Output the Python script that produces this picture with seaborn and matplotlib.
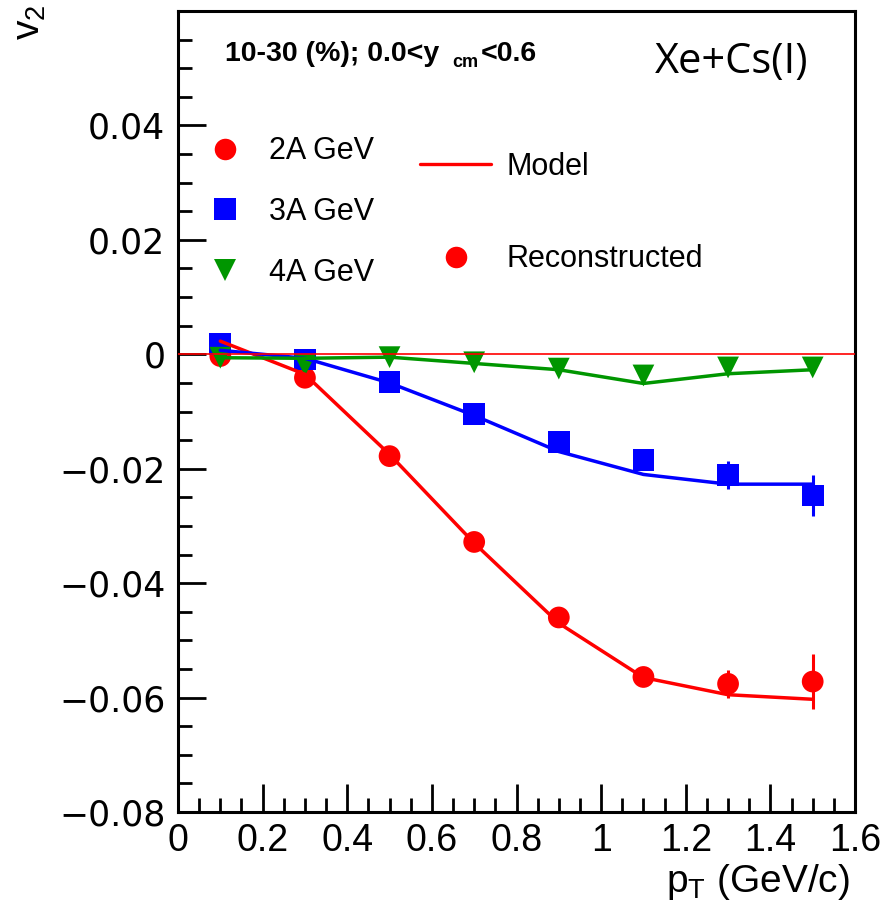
import numpy as np
import pandas as pd
import matplotlib
matplotlib.use("Agg")
import matplotlib.pyplot as plt
import seaborn as sns
from matplotlib.lines import Line2D
from matplotlib.ticker import MultipleLocator, FuncFormatter

# ---------------- data ----------------
pt = [0.1, 0.3, 0.5, 0.7, 0.9, 1.1, 1.3, 1.5]

v2_2A = [-0.0003, -0.0041, -0.0178, -0.0328, -0.0460, -0.0564, -0.0576, -0.0572]
err_2A = [0.0008, 0.0008, 0.0008, 0.0009, 0.0010, 0.0012, 0.0025, 0.0048]
model_2A = [0.0023, -0.0035, -0.0175, -0.0330, -0.0470, -0.0565, -0.0595, -0.0603]

v2_3A = [0.0018, -0.0009, -0.0048, -0.0104, -0.0153, -0.0185, -0.0211, -0.0247]
err_3A = [0.0006, 0.0006, 0.0006, 0.0007, 0.0008, 0.0010, 0.0024, 0.0036]
model_3A = [0.0007, -0.0007, -0.0050, -0.0107, -0.0170, -0.0210, -0.0227, -0.0227]

v2_4A = [-0.0006, -0.0019, -0.0005, -0.0014, -0.0025, -0.0037, -0.0023, -0.0023]
err_4A = [0.0004, 0.0004, 0.0004, 0.0005, 0.0005, 0.0006, 0.0008, 0.0010]
model_4A = [-0.0006, -0.0007, -0.0005, -0.0016, -0.0027, -0.0051, -0.0034, -0.0027]

energies = ["2A GeV", "3A GeV", "4A GeV"]
colors = {"2A GeV": "#ff0000", "3A GeV": "#0000ff", "4A GeV": "#009600"}
markers = {"2A GeV": "o", "3A GeV": "s", "4A GeV": "v"}

pts = pd.DataFrame({
    "pt": pt * 3,
    "v2": v2_2A + v2_3A + v2_4A,
    "err": err_2A + err_3A + err_4A,
    "energy": [e for e in energies for _ in pt],
})
model = pd.DataFrame({
    "pt": pt * 3,
    "v2": model_2A + model_3A + model_4A,
    "energy": [e for e in energies for _ in pt],
})

# ---------------- style ----------------
sns.set_style("ticks")
plt.rcParams["font.family"] = ["Liberation Sans", "DejaVu Sans"]
plt.rcParams["text.color"] = "black"
plt.rcParams["axes.labelcolor"] = "black"
plt.rcParams["xtick.color"] = "black"
plt.rcParams["ytick.color"] = "black"
plt.rcParams["mathtext.fontset"] = "custom"
plt.rcParams["mathtext.rm"] = "Liberation Sans"
plt.rcParams["mathtext.it"] = "Liberation Sans:italic"
plt.rcParams["mathtext.bf"] = "Liberation Sans:bold"

W, H = 884, 916
fig = plt.figure(figsize=(W / 100, H / 100), dpi=100)
L, R, T, B = 178, 855, 11, 812
ax = fig.add_axes([L / W, 1 - B / H, (R - L) / W, (B - T) / H])

def fx(x):
    return x / W

def fy(y):
    return 1 - y / H

# error bars
for e in energies:
    d = pts[pts.energy == e]
    ax.errorbar(d.pt, d.v2, yerr=d.err, fmt="none", ecolor=colors[e],
                elinewidth=2.2, capsize=0, zorder=2)

# points
sns.scatterplot(data=pts, x="pt", y="v2", hue="energy", style="energy",
                palette=colors, markers=markers, s=245, linewidth=0,
                legend=False, ax=ax, zorder=3)

# model lines
sns.lineplot(data=model, x="pt", y="v2", hue="energy", palette=colors,
             linewidth=2.5, legend=False, ax=ax, sort=False, estimator=None,
             zorder=4)

ax.axhline(0, color="#ff0000", lw=1.2, zorder=5)

ax.set_xlim(0, 1.6)
ax.set_ylim(-0.08, 0.06)
ax.set_xlabel("")
ax.set_ylabel("")

ax.xaxis.set_major_locator(MultipleLocator(0.2))
ax.xaxis.set_minor_locator(MultipleLocator(0.05))
ax.set_yticks([-0.08, -0.06, -0.04, -0.02, 0.0, 0.02, 0.04])
ax.yaxis.set_minor_locator(MultipleLocator(0.005))

ax.xaxis.set_major_formatter(FuncFormatter(lambda v, p: "%g" % round(v, 3)))
ax.yaxis.set_major_formatter(FuncFormatter(lambda v, p: ("%g" % round(v, 3)).replace("-", "\u2212")))

ax.tick_params(which="both", direction="in", top=False, right=False,
               bottom=True, left=True, width=2, colors="black")
ax.tick_params(which="major", length=20)
ax.tick_params(which="minor", length=10)
ax.tick_params(axis="x", which="major", pad=8, labelsize=27)
ax.tick_params(axis="y", which="major", pad=9, labelsize=25)
for lab in ax.get_xticklabels():
    lab.set_fontfamily("Liberation Sans")
for lab in ax.get_yticklabels():
    lab.set_fontfamily("DejaVu Sans")
for s in ax.spines.values():
    s.set_linewidth(2.2)
    s.set_color("black")

# legends
h1 = [Line2D([], [], ls="none", marker=markers[e], color=colors[e],
             markersize=15.5, markeredgewidth=0) for e in energies]
leg1 = ax.legend(h1, energies, loc="center left",
                 bbox_to_anchor=(fx(202), fy(212)), bbox_transform=fig.transFigure,
                 frameon=False, fontsize=22, handlelength=1.5, handletextpad=0.7,
                 labelspacing=1.0, borderpad=0, borderaxespad=0)
ax.add_artist(leg1)
h2 = [Line2D([], [], color="#ff0000", lw=2.4),
      Line2D([], [], ls="none", marker="o", color="#ff0000", markersize=15.5,
             markeredgewidth=0)]
leg2 = ax.legend(h2, ["Model", "Reconstructed"], loc="center left",
                 bbox_to_anchor=(fx(420), fy(213)), bbox_transform=fig.transFigure,
                 frameon=False, fontsize=22, handlelength=2.33, handletextpad=0.5,
                 labelspacing=2.06, borderpad=0, borderaxespad=0)
for leg in (leg1, leg2):
    for t in leg.get_texts():
        t.set_color("black")

# annotations: bold selection label built from pieces (ROOT-like subscript)
renderer = fig.canvas.get_renderer()
t1 = fig.text(fx(225), fy(61), "10-30 (%); 0.0<y", fontsize=20.5,
              fontweight="bold", ha="left", va="baseline")
x1 = t1.get_window_extent(renderer).x1
t2 = fig.text((x1 + 13) / W, fy(67), "cm", fontsize=13, fontweight="bold",
              ha="left", va="baseline")
x2 = t2.get_window_extent(renderer).x1
fig.text((x2 + 2) / W, fy(61), "<0.6", fontsize=20.5, fontweight="bold",
         ha="left", va="baseline")

fig.text(fx(655), fy(62), "Xe+Cs(I)", fontsize=30, family="Open Sans",
         ha="left", va="center")
fig.text(fx(850), fy(882), r"p$_{\mathrm{T}}$ (GeV/c)", fontsize=28,
         ha="right", va="center")
fig.text(fx(30), fy(4), r"v$_{\mathrm{2}}$", fontsize=28, rotation=90,
         ha="center", va="top")

fig.savefig("out.png", dpi=100)
